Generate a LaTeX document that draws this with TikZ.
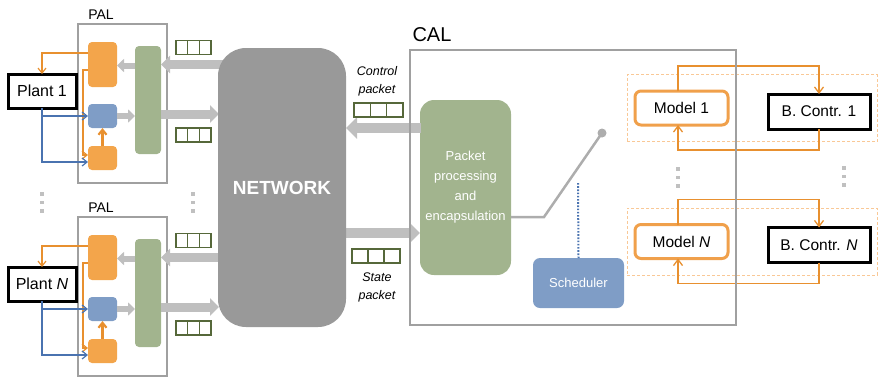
\documentclass[tikz,border=0pt]{standalone}
\usepackage{fontspec}
\setmainfont{Liberation Sans}
\usetikzlibrary{arrows.meta,calc}

\definecolor{orgF}{HTML}{F3A54B}
\definecolor{bluF}{HTML}{7F9DC6}
\definecolor{grnF}{HTML}{A2B48E}
\definecolor{netF}{HTML}{999999}
\definecolor{arrG}{HTML}{BFBFBF}
\definecolor{boxG}{HTML}{A0A0A0}
\definecolor{orgL}{HTML}{E8902F}
\definecolor{orgB}{HTML}{F0A04B}
\definecolor{orgD}{HTML}{F9C896}
\definecolor{bluL}{HTML}{4A73B0}
\definecolor{pkG}{HTML}{56683A}
\definecolor{swG}{HTML}{ADADAD}
\definecolor{dotC}{HTML}{C0C0C0}

\begin{document}
\begin{tikzpicture}[x=1pt,y=-1pt,
  box/.style={inner sep=0pt,outer sep=0pt},
  palbox/.style={box,draw=boxG,line width=2.5pt,minimum width=89pt,minimum height=159pt},
  ofill/.style={box,fill=orgF,rounded corners=4pt,minimum width=29pt},
  bfill/.style={box,fill=bluF,rounded corners=4pt,minimum width=29pt,minimum height=24pt},
  gfill/.style={box,fill=grnF,rounded corners=4pt,minimum width=26pt,minimum height=108pt},
  plant/.style={box,draw=black,line width=3pt,fill=white,minimum width=68pt,minimum height=34pt,font=\fontsize{16}{19}\selectfont},
  lbl/.style={box,font=\fontsize{14}{16}\selectfont},
  packet/.style={box,draw=pkG,line width=1.4pt,fill=white,minimum height=14pt,
    path picture={
      \draw[pkG,line width=1.4pt]
        ($(path picture bounding box.south west)!1/3!(path picture bounding box.south east)$) --
        ($(path picture bounding box.north west)!1/3!(path picture bounding box.north east)$)
        ($(path picture bounding box.south west)!2/3!(path picture bounding box.south east)$) --
        ($(path picture bounding box.north west)!2/3!(path picture bounding box.north east)$);}},
  garrow/.style={draw=arrG,line width=9pt,-{Triangle[length=9pt,width=17pt]}},
  carrow/.style={draw=arrG,line width=10pt,-{Triangle[length=11pt,width=21pt]}},
  sarrow/.style={draw=arrG,line width=6pt,-{Triangle[length=7pt,width=13pt]}},
  oline/.style={draw=orgL,line width=1.2pt,-{Straight Barb[length=5pt,width=8pt]}},
  othick/.style={draw=orgL,line width=2.2pt,-{Straight Barb[length=5pt,width=8pt]}},
  bline/.style={draw=bluL,line width=1.2pt,-{Straight Barb[length=5pt,width=8pt]}},
  fb/.style={draw=orgL,line width=1.3pt},
  fbarrow/.style={fb,-{Straight Barb[length=6pt,width=9pt]}},
  netw/.style={box,fill=netF,rounded corners=28pt,minimum width=128pt,minimum height=279pt,
    text=white,font=\bfseries\fontsize{19}{22}\selectfont},
  procbox/.style={box,fill=grnF,rounded corners=14pt,minimum width=91pt,minimum height=175pt,
    text=white,align=center,font=\fontsize{13}{20}\selectfont},
  schbox/.style={box,fill=bluF,rounded corners=7pt,minimum width=91pt,minimum height=50pt,
    text=white,font=\fontsize{13}{16}\selectfont},
  ptxt/.style={box,align=center,font=\itshape\fontsize{12.5}{18}\selectfont},
  model/.style={box,draw=orgB,line width=3pt,fill=white,rounded corners=6pt,minimum width=93pt,minimum height=34pt,font=\fontsize{15.5}{18}\selectfont},
  bctrl/.style={box,draw=black,line width=3pt,fill=white,minimum width=102pt,minimum height=35pt,font=\fontsize{15.5}{18}\selectfont},
  dashbox/.style={box,draw=orgD,line width=0.8pt,dash pattern=on 3pt off 2pt,minimum width=250pt,minimum height=67pt},
  calbox/.style={box,draw=boxG,line width=2.5pt,minimum width=326pt,minimum height=275pt},
]
\useasboundingbox (0,0) rectangle (878,376);

% ---------- plant-side adapter layers ----------
\foreach \d/\k/\lab in {0/1/{Plant 1},193/2/{Plant \textit{N}}}{
  \node[palbox] (pal\k) at (122.5,103.5+\d) {};
  \node[lbl] (palL\k) at (101,15+\d) {PAL};
  \node[ofill,minimum height=45pt] (oT\k) at (102.5,64.5+\d) {};
  \node[bfill] (bl\k) at (102.5,116+\d) {};
  \node[ofill,minimum height=24pt] (oB\k) at (102.5,158+\d) {};
  \node[gfill] (grn\k) at (148,100+\d) {};
  \node[plant] (pl\k) at (42,91+\d) {\lab};
  \node[packet,minimum width=35pt] (pkA\k) at (193.5,47.5+\d) {};
  \node[packet,minimum width=35pt] (pkB\k) at (193.5,135+\d) {};

  % data flow between the adapter blocks and the network
  \coordinate (inA\k) at (240,64.5+\d);
  \coordinate (outA\k) at (219,114+\d);
  \draw[garrow] (inA\k) -- (grn\k.east |- inA\k);
  \draw[garrow] (grn\k.east |- outA\k) -- (outA\k);
  \draw[sarrow] ($(grn\k.west)+(0,-34.5)$) -- ($(oT\k.east)+(0,1)$);
  \draw[sarrow] (bl\k.east) -- (grn\k.west |- bl\k.east);

  % actuation and sensing wires
  \draw[oline] ($(oT\k.west)+(0,-11.5)$) -| (pl\k.north);
  \draw[oline] ($(oT\k.west)+(0,5.5)$) -- ++(-5,0) |- ($(oB\k.west)+(0,-3)$);
  \draw[bline] (pl\k.south) |- ($(oB\k.west)+(0,4)$);
  \draw[bline] (pl\k.south |- bl\k.west) -- (bl\k.west);
  \draw[othick] (oB\k.north) -- (bl\k.south);
}

% ---------- controller side arrows (under the network) ----------
\coordinate (cA) at (421,128);
\coordinate (sA) at (330,233);
\node[procbox] (proc) at (465.5,187.5) {Packet\\processing\\and\\encapsulation};
\draw[carrow] (cA) -- (346,128);
\draw[carrow] (sA) -- (proc.west |- sA);

% ---------- network ----------
\node[netw] (net) at (282,187.5) {NETWORK};

\node[ptxt] (ctl) at (377,81) {Control\\packet};
\node[packet,minimum width=49pt] (pkC) at (378.5,110) {};
\node[packet,minimum width=48pt] (pkS) at (376,256) {};
\node[ptxt] (stt) at (377,287.5) {State\\packet};

% ---------- controller-side adapter layer ----------
\node[lbl,font=\fontsize{20}{22}\selectfont] (calL) at (432,35) {CAL};
\node[schbox] (sch) at (578.5,283) {Scheduler};
\coordinate (swA) at (544,217);
\node[box,circle,fill=swG,minimum size=9pt] (swP) at (602,133) {};
\draw[swG,line width=2.5pt] (proc.east |- swA) -- (swA) -- (swP.center);
\coordinate (dT) at (578,183);
\draw[bluL,line width=2pt,dash pattern=on 1.6pt off 1.6pt] (dT) -- (sch.north);

\foreach \cy/\k/\mlab/\blab in {108/1/{Model 1}/{B. Contr. 1},241.5/2/{Model \textit{N}}/{B. Contr. \textit{N}}}{
  \node[dashbox] (dsh\k) at (752,\cy) {};
  \node[model] (m\k) at (681.5,\cy) {\mlab};
  \node[bctrl] (b\k) at (819,\cy+3.5) {\blab};
  \draw[fbarrow] ($(m\k.north)+(-3.5,0)$) -- ++(0,-25) -| (b\k.north);
  \draw[fbarrow] (b\k.south) -- ++(0,21) -| ($(m\k.south)+(-3.5,0)$);
}

\node[calbox] (cal) at (573,187.5) {};

% ---------- ellipsis marks ----------
\foreach \x/\y in {42/194,193/194,678/169,844/168}{
  \foreach \j in {0,1,2}{
    \fill[dotC] (\x-1.75,\y+\j*8.5-1.75) rectangle ++(3.5,3.5);
  }
}
\end{tikzpicture}
\end{document}
